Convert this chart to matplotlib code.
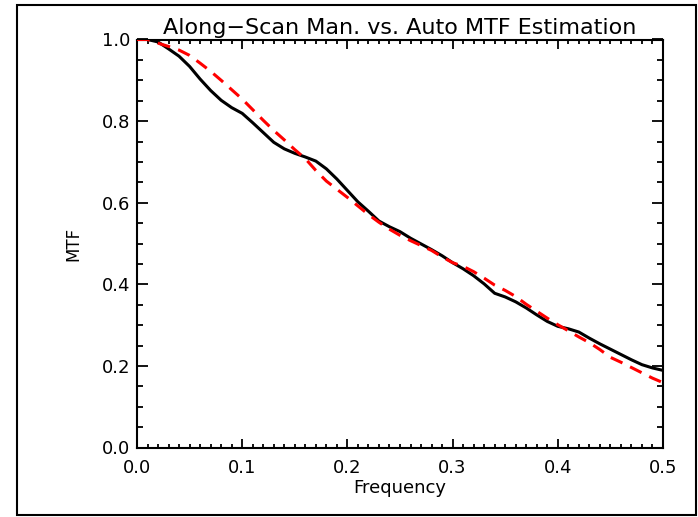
import matplotlib
matplotlib.use('Agg')
import matplotlib.pyplot as plt
from matplotlib.ticker import MultipleLocator
from matplotlib.patches import Rectangle

# values
freq = [0.00, 0.01, 0.02, 0.03, 0.04, 0.05, 0.06, 0.07, 0.08, 0.09,
        0.10, 0.11, 0.12, 0.13, 0.14, 0.15, 0.16, 0.17, 0.18, 0.19,
        0.20, 0.21, 0.22, 0.23, 0.24, 0.25, 0.26, 0.27, 0.28, 0.29,
        0.30, 0.31, 0.32, 0.33, 0.34, 0.35, 0.36, 0.37, 0.38, 0.39,
        0.40, 0.41, 0.42, 0.43, 0.44, 0.45, 0.46, 0.47, 0.48, 0.49, 0.50]

mtf_manual = [1.000, 1.000, 0.994, 0.977, 0.959, 0.934, 0.903, 0.875, 0.851, 0.833,
              0.819, 0.796, 0.772, 0.748, 0.732, 0.721, 0.712, 0.702, 0.683, 0.658,
              0.630, 0.602, 0.579, 0.555, 0.541, 0.529, 0.513, 0.499, 0.485, 0.470,
              0.453, 0.438, 0.421, 0.401, 0.378, 0.369, 0.357, 0.342, 0.325, 0.309,
              0.297, 0.291, 0.283, 0.268, 0.254, 0.241, 0.228, 0.215, 0.203, 0.195, 0.189]

mtf_auto = [1.000, 1.000, 0.991, 0.983, 0.974, 0.961, 0.942, 0.922, 0.900, 0.877,
            0.854, 0.828, 0.802, 0.777, 0.754, 0.730, 0.708, 0.679, 0.653, 0.633,
            0.613, 0.592, 0.571, 0.552, 0.535, 0.520, 0.507, 0.495, 0.483, 0.467,
            0.453, 0.444, 0.431, 0.415, 0.398, 0.385, 0.370, 0.351, 0.334, 0.317,
            0.301, 0.286, 0.271, 0.257, 0.240, 0.221, 0.209, 0.196, 0.183, 0.170, 0.159]

title = "Along\u2212Scan Man. vs. Auto MTF Estimation"

fig = plt.figure(figsize=(6.98, 5.17), dpi=100)
ax = fig.add_axes([137 / 698, 69.5 / 517, 526 / 698, 408 / 517])

ax.plot(freq, mtf_manual, color="black", lw=2.2, solid_joinstyle="round", zorder=2)
ax.plot(freq, mtf_auto, color="#ff0000", lw=2.2, dashes=(4.2, 2.8), zorder=3)

ax.set_xlim(0, 0.5)
ax.set_ylim(0, 1.0)
ax.xaxis.set_major_locator(MultipleLocator(0.1))
ax.xaxis.set_minor_locator(MultipleLocator(0.01))
ax.yaxis.set_major_locator(MultipleLocator(0.2))
ax.yaxis.set_minor_locator(MultipleLocator(0.05))
ax.xaxis.set_major_formatter(plt.FuncFormatter(lambda v, p: f"{v:.1f}"))
ax.yaxis.set_major_formatter(plt.FuncFormatter(lambda v, p: f"{v:.1f}"))

ax.tick_params(axis="both", which="both", direction="in", top=True, right=True,
               width=1.3, labelsize=13)
ax.tick_params(axis="x", which="major", length=6.5, pad=8)
ax.tick_params(axis="x", which="minor", length=3)
ax.tick_params(axis="y", which="major", length=8, pad=5)
ax.tick_params(axis="y", which="minor", length=4.5)
for s in ax.spines.values():
    s.set_linewidth(1.5)

ax.set_xlabel("Frequency", fontsize=13, labelpad=2)
ax.set_ylabel("MTF", fontsize=12, labelpad=14)
ax.set_title(title, fontsize=16, pad=4)

fig.patches.append(Rectangle((17 / 698, 2 / 517), 679 / 698, 510 / 517,
                             transform=fig.transFigure, fill=False,
                             edgecolor="black", lw=1.5))

plt.savefig("out.png", dpi=100)
